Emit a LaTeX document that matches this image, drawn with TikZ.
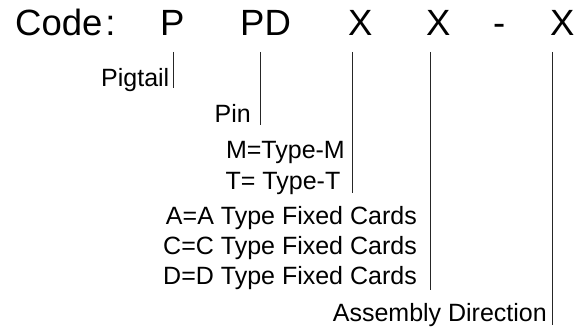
\documentclass[tikz,border=0pt]{standalone}
\usepackage{fontspec}
\setmainfont{Liberation Sans}
\begin{document}
\begin{tikzpicture}[x=1pt,y=1pt,
  big/.style={inner sep=0pt,anchor=base west,font=\fontsize{36.5}{40}\selectfont},
  lbl/.style={inner sep=0pt,anchor=base east,font=\fontsize{25}{30}\selectfont},
  tick/.style={draw=black!85,line width=0.9pt}]
\useasboundingbox (0,0) rectangle (576,327);
% code line
\node[big] (code) at (15,291) {Code\hspace{3pt}:};
\node[big] (p)  at (160,291) {P};
\node[big] (pd) at (240,291) {PD};
\node[big] (x1) at (348,291) {X};
\node[big] (x2) at (426,291) {X};
\node[big] (dash) at (493,291) {-};
\node[big] (x3) at (550,291) {X};
% labels
\node[lbl] (pig) at (169.5,240) {Pigtail};
\node[lbl] (pin) at (251,204) {Pin};
\node[lbl] (tm) at (345,168) {M=Type-M};
\node[lbl] (tt) at (340.5,137) {T= Type-T};
\node[lbl] (ca) at (417,102) {A=A Type Fixed Cards};
\node[lbl] (cc) at (417,73) {C=C Type Fixed Cards};
\node[lbl] (cd) at (417,42) {D=D Type Fixed Cards};
\node[lbl] (asm) at (547,6) {Assembly Direction};
% line ends
\coordinate (t1) at (173,275); \coordinate (b1) at (173,239);
\coordinate (t2) at (260.5,275); \coordinate (b2) at (260.5,202);
\coordinate (t3) at (352,275); \coordinate (b3) at (352,134);
\coordinate (t4) at (430,275); \coordinate (b4) at (430,37);
\coordinate (t5) at (552,275); \coordinate (b5) at (552,2);
\draw[tick] (t1) -- (b1);
\draw[tick] (t2) -- (b2);
\draw[tick] (t3) -- (b3);
\draw[tick] (t4) -- (b4);
\draw[tick] (t5) -- (b5);
\end{tikzpicture}
\end{document}
